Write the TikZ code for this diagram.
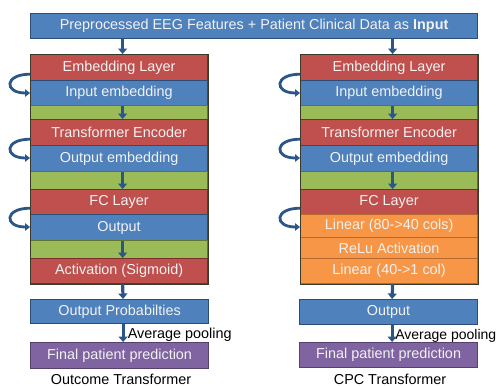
\documentclass[tikz,border=0pt]{standalone}
\usepackage{fontspec}
\setmainfont{Liberation Sans}
\usetikzlibrary{arrows.meta,calc}
\definecolor{cred}{HTML}{C0504D}
\definecolor{cblue}{HTML}{4F81BD}
\definecolor{cgreen}{HTML}{9BBB59}
\definecolor{corange}{HTML}{F79646}
\definecolor{cpurple}{HTML}{8064A2}
\definecolor{bred}{HTML}{7A2E2C}
\definecolor{bblue}{HTML}{2C4D75}
\definecolor{bgreen}{HTML}{5F7530}
\definecolor{borange}{HTML}{B5692E}
\definecolor{bpurple}{HTML}{55416F}
\definecolor{txt}{HTML}{F2F2F2}
\definecolor{arr}{HTML}{2A5788}
\definecolor{frame}{HTML}{3A3A28}
\tikzset{
  bx/.style={draw, line width=1.2pt, inner sep=0pt, anchor=north west, text=txt, minimum width=177pt},
  redbox/.style={bx, fill=cred, draw=bred},
  bluebox/.style={bx, fill=cblue, draw=bblue},
  greenbox/.style={bx, fill=cgreen, draw=bgreen},
  orangebox/.style={bx, fill=corange, draw=borange},
  purplebox/.style={bx, fill=cpurple, draw=bpurple},
  blk/.style={draw=arr, line width=3.2pt, -{Triangle[width=9pt,length=5.5pt]}},
  curarr/.style={draw=arr, line width=2.8pt, -{Triangle[width=7.5pt,length=5pt]}},
  lbl/.style={inner sep=0pt, text=black}
}
\begin{document}
\begin{tikzpicture}[x=1pt,y=-1pt,font=\fontsize{14.4}{16}\selectfont]
\useasboundingbox (0,0) rectangle (499,386);

% top input box
\node[bluebox, minimum width=447pt, minimum height=25pt] (inp) at (30,13) {Preprocessed EEG Features + Patient Clinical Data as \textbf{Input}};

% left column
\node[redbox, minimum height=26pt] (emb1) at (30,54) {Embedding Layer};
\node[bluebox, minimum height=25pt] (inemb1) at (30,80) {Input embedding};
\node[greenbox, minimum height=14pt] (g1a) at (30,105) {};
\node[redbox, minimum height=26pt] (te1) at (30,119) {Transformer Encoder};
\node[bluebox, minimum height=26pt] (outemb1) at (30,145) {Output embedding};
\node[greenbox, minimum height=18pt] (g1b) at (30,171) {};
\node[redbox, minimum height=25pt] (fc1) at (30,189) {FC Layer};
\node[bluebox, minimum height=26pt] (out1) at (30,214) {Output};
\node[greenbox, minimum height=18pt] (g1c) at (30,240) {};
\node[redbox, minimum height=25pt] (act1) at (30,258) {Activation (Sigmoid)};
\draw[frame, line width=0.8pt] (emb1.north west) rectangle (act1.south east);
\node[bluebox, minimum width=178pt, minimum height=24pt] (prob1) at (30,299) {Output Probabilties};
\node[purplebox, minimum width=178pt, minimum height=26pt] (final1) at (30,342) {Final patient prediction};
\node[lbl] (cap1) at (121,379) {Outcome Transformer};

% right column
\node[redbox, minimum height=26pt] (emb2) at (300,54) {Embedding Layer};
\node[bluebox, minimum height=25pt] (inemb2) at (300,80) {Input embedding};
\node[greenbox, minimum height=14pt] (g2a) at (300,105) {};
\node[redbox, minimum height=26pt] (te2) at (300,119) {Transformer Encoder};
\node[bluebox, minimum height=26pt] (outemb2) at (300,145) {Output embedding};
\node[greenbox, minimum height=18pt] (g2b) at (300,171) {};
\node[redbox, minimum height=25pt] (fc2) at (300,189) {FC Layer};
\node[orangebox, minimum height=23pt] (lin1) at (300,214) {Linear (80->40 cols)};
\node[orangebox, minimum height=21pt] (relu) at (300,237) {ReLu Activation};
\node[orangebox, minimum height=25pt] (lin2) at (300,258) {Linear (40->1 col)};
\draw[frame, line width=0.8pt] (emb2.north west) rectangle (lin2.south east);
\node[bluebox, minimum width=178pt, minimum height=25pt] (out2) at (299,299) {Output};
\node[purplebox, minimum width=178pt, minimum height=25pt] (final2) at (299,342) {Final patient prediction};
\node[lbl] (cap2) at (390,379) {CPC Transformer};

% block arrows
\coordinate (a1) at ($(emb1.north)+(3.5,0)$);
\coordinate (a2) at ($(emb2.north)+(3.5,0)$);
\draw[blk] (a1 |- inp.south) -- (a1);
\draw[blk] (a2 |- inp.south) -- (a2);
\foreach \a/\b in {inemb1/te1, outemb1/fc1, out1/act1, act1/prob1, prob1/final1, inemb2/te2, outemb2/fc2, lin2/out2, out2/final2}
  \draw[blk] ($(\a.south)+(3.5,0)$) -- ($(\b.north)+(3.5,0)$);

% average pooling labels
\node[lbl, anchor=west] (ap1) at ($(prob1.south)!0.5!(final1.north)+(8,2)$) {Average pooling};
\node[lbl, anchor=west, font=\fontsize{14}{16}\selectfont] (ap2) at ($(out2.south)!0.5!(final2.north)+(6.5,2)$) {Average pooling};

% curved arrows
\foreach \a/\b in {emb1/inemb1, te1/outemb1, fc1/out1, emb2/inemb2, te2/outemb2, fc2/lin1}
  \draw[curarr] ($(\a.south west)+(0,-7)$) .. controls +(-26,0) and +(-26,0) .. ($(\b.north west)+(0,13)$);
\end{tikzpicture}
\end{document}
